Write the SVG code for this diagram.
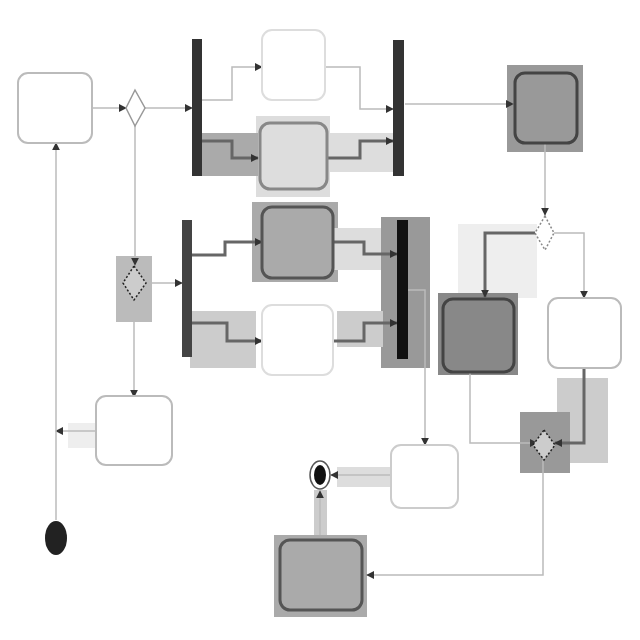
<svg xmlns="http://www.w3.org/2000/svg" width="640" height="640" viewBox="0 0 640 640">
<defs>
<style>
.act{fill:#fff;stroke:#bbb;stroke-width:2}
.actg{stroke:#555;stroke-width:3}
.bar{fill:#333}
.dec{fill:#fff;stroke:#888;stroke-width:1.5;stroke-dasharray:2 2}
.c{fill:none;stroke:#bbb;stroke-width:1.5}
.cd{fill:none;stroke:#666;stroke-width:3}
.hl{stroke:none}
</style>
<marker id="ah" viewBox="0 0 10 10" refX="9" refY="5" markerWidth="8" markerHeight="8" markerUnits="userSpaceOnUse" orient="auto-start-reverse"><path d="M0,0 L10,5 L0,10 z" fill="#333"/></marker>
</defs>
<rect width="640" height="640" fill="#fff"/>
<g id="highlights">
<rect class="hl" x="256" y="116" width="74" height="81" fill="#ddd"/>
<rect class="hl" x="200" y="133" width="58" height="43" fill="#aaa"/>
<rect class="hl" x="327" y="133" width="66" height="39" fill="#ddd"/>
<rect class="hl" x="507" y="65" width="76" height="87" fill="#999"/>
<rect class="hl" x="458" y="224" width="79" height="74" fill="#eee"/>
<rect class="hl" x="438" y="293" width="80" height="82" fill="#888"/>
<rect class="hl" x="557" y="378" width="51" height="85" fill="#ccc"/>
<rect class="hl" x="520" y="412" width="50" height="61" fill="#999"/>
<rect class="hl" x="116" y="256" width="36" height="66" fill="#bbb"/>
<rect class="hl" x="252" y="202" width="86" height="80" fill="#aaa"/>
<rect class="hl" x="333" y="228" width="50" height="42" fill="#ddd"/>
<rect class="hl" x="381" y="217" width="49" height="151" fill="#999"/>
<rect class="hl" x="190" y="311" width="66" height="57" fill="#ccc"/>
<rect class="hl" x="337" y="311" width="46" height="36" fill="#ccc"/>
<rect class="hl" x="68" y="423" width="28" height="25" fill="#eee"/>
<rect class="hl" x="337" y="467" width="56" height="20" fill="#ddd"/>
<rect class="hl" x="314" y="490" width="13" height="45" fill="#ccc"/>
<rect class="hl" x="274" y="535" width="93" height="82" fill="#aaa"/>
</g>
<g id="connectors">
<path class="c" d="M92,108 H126" marker-end="url(#ah)"/>
<path class="c" d="M145,108 H192" marker-end="url(#ah)" stroke="#ddd"/>
<path class="c" d="M135,126 V265" marker-end="url(#ah)"/>
<path class="c" d="M202,100 H232 V67 H262" marker-end="url(#ah)" stroke="#ddd"/>
<path class="cd" d="M202,141 H232 V158 H258" marker-end="url(#ah)"/>
<path class="c" d="M325,67 H360 V109 H393" marker-end="url(#ah)"/>
<path class="cd" d="M327,158 H360 V141 H393" marker-end="url(#ah)"/>
<path class="c" d="M405,104 H513" marker-end="url(#ah)" stroke="#ddd"/>
<path class="c" d="M545,143 V215" marker-end="url(#ah)"/>
<path class="cd" d="M535,233 H485 V297" marker-end="url(#ah)"/>
<path class="c" d="M554,233 H584 V298" marker-end="url(#ah)" stroke="#ddd"/>
<path class="cd" d="M584,368 V443 H555" marker-end="url(#ah)"/>
<path class="c" d="M470,372 V443 H537" marker-end="url(#ah)" stroke="#e4e4e4"/>
<path class="c" d="M146,283 H182" marker-end="url(#ah)"/>
<path class="c" d="M134,300 V397" marker-end="url(#ah)" stroke="#e4e4e4"/>
<path class="cd" d="M192,255 H225 V242 H262" marker-end="url(#ah)"/>
<path class="cd" d="M192,323 H227 V341 H262" marker-end="url(#ah)"/>
<path class="cd" d="M333,242 H364 V254 H397" marker-end="url(#ah)"/>
<path class="cd" d="M333,341 H364 V323 H397" marker-end="url(#ah)"/>
<path class="c" d="M408,290 H425 V445" marker-end="url(#ah)" stroke="#999"/>
<path class="c" d="M96,431 H56" marker-end="url(#ah)"/>
<path class="c" d="M56,520 V143" marker-end="url(#ah)" stroke="#e4e4e4"/>
<path class="c" d="M543,460 V575 H367" marker-end="url(#ah)"/>
<path class="c" d="M391,475 H331" marker-end="url(#ah)"/>
<path class="c" d="M320,535 V491" marker-end="url(#ah)"/>
</g>
<g id="A"><rect class="act" x="18" y="73" width="74" height="70" rx="10"/></g>
<g id="D1"><polygon class="dec" points="135,90 145,108 135,126 126,108" style="stroke-dasharray:none;stroke:#999"/></g>
<g id="F1"><rect class="bar" x="192" y="39" width="10" height="137"/></g>
<g id="B"><rect class="act" x="262" y="30" width="63" height="70" rx="10" style="stroke:#ddd"/></g>
<g id="C"><rect class="act actg" x="260" y="123" width="67" height="66" rx="10" style="fill:#ddd;stroke:#888"/></g>
<g id="J1"><rect class="bar" x="393" y="40" width="11" height="136"/></g>
<g id="E"><rect class="act actg" x="515" y="73" width="62" height="70" rx="10" style="fill:#999;stroke:#444"/></g>
<g id="D2"><polygon class="dec" points="545,216 554,233 545,250 535,233"/></g>
<g id="F"><rect class="act actg" x="443" y="299" width="71" height="73" rx="10" style="fill:#888;stroke:#444"/></g>
<g id="G"><rect class="act" x="548" y="298" width="73" height="70" rx="10"/></g>
<g id="D3"><polygon class="dec" points="134,266 146,283 134,300 123,283" style="fill:#ccc;stroke:#222"/></g>
<g id="F2"><rect class="bar" x="182" y="220" width="10" height="137" style="fill:#444"/></g>
<g id="H"><rect class="act actg" x="262" y="207" width="71" height="71" rx="10" style="fill:#aaa;stroke:#555"/></g>
<g id="I"><rect class="act" x="262" y="305" width="71" height="70" rx="10" style="stroke:#ddd"/></g>
<g id="J2"><rect class="bar" x="397" y="220" width="11" height="139" style="fill:#111"/></g>
<g id="J"><rect class="act" x="96" y="396" width="76" height="69" rx="10"/></g>
<g id="initial"><ellipse cx="56" cy="538" rx="11" ry="17" fill="#222"/></g>
<g id="K"><rect class="act" x="391" y="445" width="67" height="63" rx="10" style="stroke:#ccc"/></g>
<g id="final"><ellipse cx="320" cy="475" rx="10" ry="14" fill="#fff" stroke="#555" stroke-width="1.5"/><ellipse cx="320" cy="475" rx="6" ry="10" fill="#111"/></g>
<g id="L"><rect class="act actg" x="280" y="540" width="82" height="70" rx="10" style="fill:#aaa;stroke:#555"/></g>
<g id="D4"><polygon class="dec" points="544,430 555,445 544,460 533,445" style="fill:#ccc;stroke:#222"/></g>
</svg>
